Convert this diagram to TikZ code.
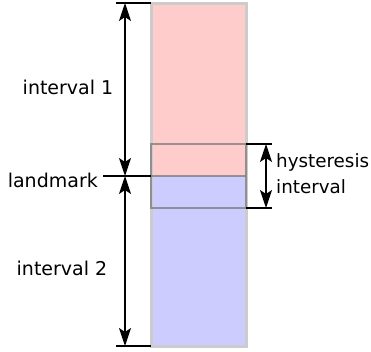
\documentclass[tikz,border=0pt]{standalone}
\usepackage{fontspec}
\setmainfont{DejaVu Sans}
\usetikzlibrary{arrows.meta}
\begin{document}
\begin{tikzpicture}[x=1pt,y=-1pt,>={Stealth[length=18pt,width=12pt,inset=4pt]},
	label text/.style={font=\fontsize{19}{26}\selectfont, inner sep=0pt},
	tick/.style={line width=1.3pt}]
	\useasboundingbox (0,0) rectangle (371,351);
	% the bar, split at the landmark
	\fill[red!20] (151,3) rectangle (246,176);
	\fill[blue!20] (151,176) rectangle (246,346);
	\draw[black!20, line width=3pt] (151,3) rectangle (246,346);
	\draw[black!50, opacity=.8, line width=2.5pt] (151,144) rectangle (246,208);
	\draw[black!50, opacity=.8, line width=2.5pt] (151,176) -- (246,176);
	% ticks and dimension arrows on the left
	\coordinate (top) at (151,3);
	\coordinate (mid) at (151,176);
	\coordinate (bot) at (151,346);
	\coordinate (topL) at (116,3);
	\coordinate (botL) at (116,346);
	\coordinate (midL) at (103,176);
	\draw[tick] (topL) -- (top);
	\draw[tick] (botL) -- (bot);
	\draw[tick] (midL) -- (mid);
	\draw[tick,<->] (125,3) -- (125,176);
	\draw[tick,<->] (125,176) -- (125,346);
	% hysteresis band on the right
	\coordinate (hysT) at (246,144);
	\coordinate (hysB) at (246,208);
	\draw[tick] (hysT) -- ++(26,0);
	\draw[tick] (hysB) -- ++(26,0);
	\draw[tick,<->] (266,144) -- (266,208);
	% labels
	\node[label text] (int1) at (68,87) {interval 1};
	\node[label text] (int2) at (62,268) {interval 2};
	\node[label text, anchor=east] (landmark) at (98,180) {landmark};
	\node[label text, font=\fontsize{18.3}{26}\selectfont, anchor=west, align=left] (hys) at (276,174) {hysteresis\\interval};
\end{tikzpicture}
\end{document}
